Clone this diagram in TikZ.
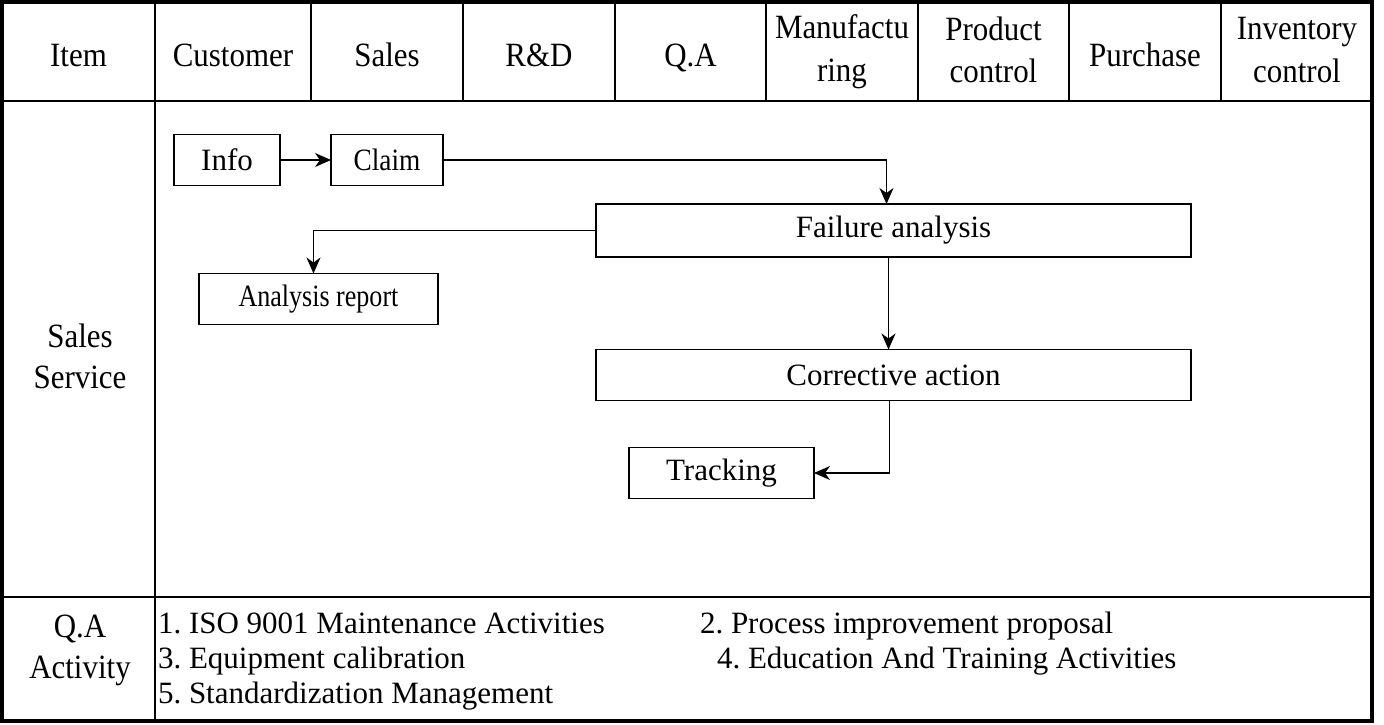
\documentclass[tikz,border=0pt]{standalone}
\usepackage{fontspec}
\setmainfont{Liberation Serif}
\newfontfamily\hdrfont[FakeStretch=0.91]{Liberation Serif}
\usetikzlibrary{arrows.meta}
\frenchspacing
\begin{document}
\begin{tikzpicture}[x=1pt,y=-1pt,
  every node/.style={font=\fontsize{31}{37}\selectfont, inner sep=0pt, outer sep=0pt},
  gridline/.style={line width=2pt},
  outerline/.style={line width=4pt},
  flowbox/.style={draw, line width=1.8pt, minimum height=51pt},
  hdr/.style={anchor=base, font=\hdrfont\fontsize{34}{41}\selectfont},
  arr/.style={line width=1.3pt, -{Stealth[length=16pt,width=14pt,inset=5pt]}},
  actitem/.style={anchor=base west}
]
\useasboundingbox (0,0) rectangle (1384,724);
\fill[white] (0,0) rectangle (1384,724);
% table grid
\draw[gridline] (2,101) -- (1372,101);
\draw[gridline] (2,597) -- (1372,597);
\draw[gridline] (155,2) -- (155,721);
\foreach \x in {311,463,615,766,918,1069,1221}
  \draw[gridline] (\x,2) -- (\x,101);
\draw[outerline] (2,2) rectangle (1372,721);
% header
\node[hdr] (hItem) at (78.5,66) {Item};
\node[hdr] (hCust) at (233,66) {Customer};
\node[hdr] (hSales) at (387,66) {Sales};
\node[hdr] (hRD) at (539,66) {R\&D};
\node[hdr] (hQA) at (690.5,66) {Q.A};
\node[hdr] (hManuA) at (842,38) {Manufactu};
\node[hdr] (hManuB) at (842,81) {ring};
\node[hdr] (hProdA) at (993.5,40) {Product};
\node[hdr] (hProdB) at (993.5,82) {control};
\node[hdr] (hPurch) at (1145,66) {Purchase};
\node[hdr] (hInvA) at (1297,39) {Inventory};
\node[hdr] (hInvB) at (1297,82) {control};
% row labels
\node[hdr] (rSalesA) at (80,347) {Sales};
\node[hdr] (rSalesB) at (80,388) {Service};
\node[hdr] (rQAA) at (80,637) {Q.A};
\node[hdr] (rQAB) at (80,678) {Activity};
% flow boxes
\node[flowbox, minimum width=106pt] (info) at (227,160) {Info};
\node[flowbox, minimum width=112pt] (claim) at (387,160) {\scalebox{0.88}[1]{Claim}};
\node[flowbox, minimum width=595pt, minimum height=53pt] (fail) at (893.5,230.5) {Failure analysis};
\node[flowbox, minimum width=239pt] (ana) at (318.5,299) {\scalebox{0.84}[1]{Analysis report}};
\node[flowbox, minimum width=595pt] (corr) at (893.5,375) {Corrective action};
\node[flowbox, minimum width=185pt] (track) at (721.5,473) {Tracking};
% connectors
\draw[arr] (info) -- (claim);
\draw[arr] (claim.east) -| ([xshift=-7pt]fail.north);
\draw[arr] (fail.west) -| ([xshift=-5pt]ana.north);
\draw[arr] ([xshift=-5pt]fail.south) -- ([xshift=-5pt]corr.north);
\draw[arr] ([xshift=-4pt]corr.south) |- (track.east);
% QA activities
\node[actitem] (a1) at (158,633) {1. ISO 9001 Maintenance Activities};
\node[actitem] (a2) at (700,633) {2. Process improvement proposal};
\node[actitem] (a3) at (158,668) {3. Equipment calibration};
\node[actitem] (a4) at (717,668) {4. Education And Training Activities};
\node[actitem] (a5) at (158,703) {5. Standardization Management};
\end{tikzpicture}
\end{document}
